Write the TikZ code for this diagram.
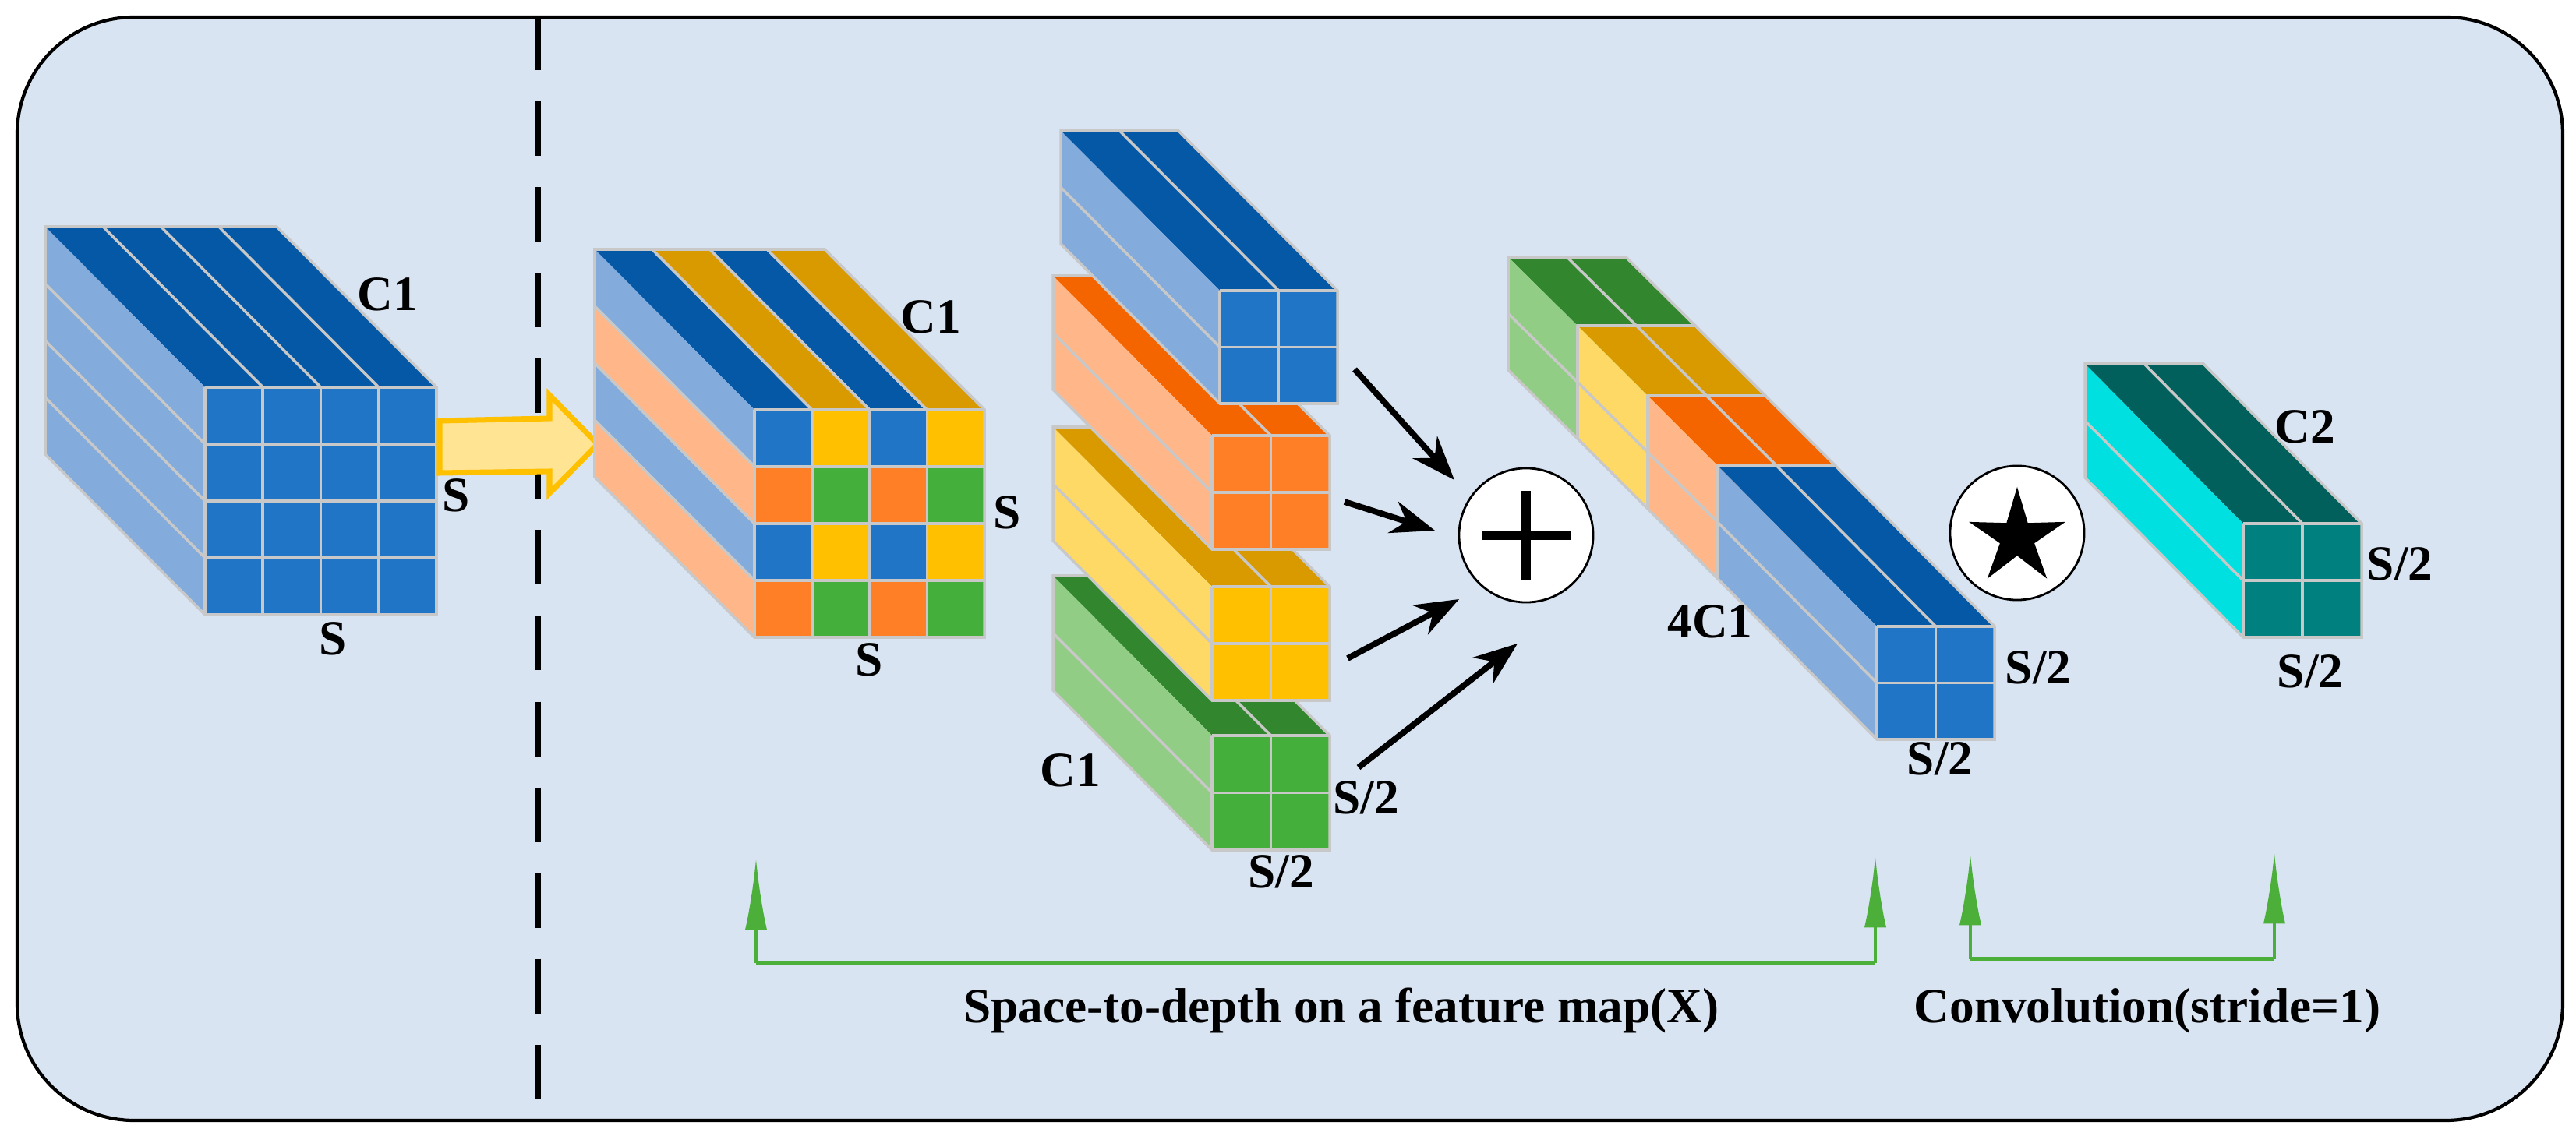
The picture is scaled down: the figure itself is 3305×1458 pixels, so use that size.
\documentclass[tikz,border=0pt]{standalone}
\usepackage{fontspec}
\setmainfont{Liberation Serif}
\usetikzlibrary{shapes.geometric,arrows.meta}
\definecolor{bg}{HTML}{D9E4F3}
\definecolor{btop}{HTML}{0558A6}\definecolor{bside}{HTML}{83ABDB}\definecolor{bfront}{HTML}{2075C7}
\definecolor{otop}{HTML}{F46500}\definecolor{oside}{HTML}{FFB78A}\definecolor{ofront}{HTML}{FF7F27}
\definecolor{ytop}{HTML}{D99A00}\definecolor{yside}{HTML}{FFD966}\definecolor{yfront}{HTML}{FFC000}
\definecolor{gtop}{HTML}{32862D}\definecolor{gside}{HTML}{92CD85}\definecolor{gfront}{HTML}{45AF3C}
\definecolor{ttop}{HTML}{02605C}\definecolor{tside}{HTML}{00E0E0}\definecolor{tfront}{HTML}{018080}
\definecolor{gridc}{HTML}{C8C8C8}
\definecolor{grn}{HTML}{4CAF3A}
\tikzset{
  gl/.style={draw=gridc,line width=1pt},
  lab/.style={font=\bfseries\fontsize{18}{20}\selectfont,inner sep=0pt},
  blk/.style={line width=2.2pt,-{Stealth[length=16pt,width=12pt]}},
  gr/.style={draw=grn,line width=1.2pt,-{Latex[length=26pt,width=8pt]}},
}
% x y w h dx dy top side front ; uses \nx \ny
\newcommand\cub[9]{%
 \fill[#7] ({#1},{#2}) -- ({#1+#5},{#2+#6}) -- ({#1+#3+#5},{#2+#6}) -- ({#1+#3},{#2}) -- cycle;
 \fill[#8] ({#1},{#2}) -- ({#1+#5},{#2+#6}) -- ({#1+#5},{#2+#4+#6}) -- ({#1},{#2+#4}) -- cycle;
 \fill[#9] ({#1},{#2}) rectangle ({#1+#3},{#2+#4});
 \cublines{#1}{#2}{#3}{#4}{#5}{#6}}
\newcommand\cublines[6]{%
 \pgfmathtruncatemacro\nxm{\nx-1}\pgfmathtruncatemacro\nym{\ny-1}
 \foreach \i in {1,...,\nxm}{\draw[gl] ({#1+\i*#3/\nx},{#2}) -- ++({#5},{#6}); \draw[gl] ({#1+\i*#3/\nx},{#2}) -- ++(0,{#4});}
 \foreach \j in {1,...,\nym}{\draw[gl] ({#1},{#2+\j*#4/\ny}) -- ++({#5},{#6}); \draw[gl] ({#1},{#2+\j*#4/\ny}) -- ++({#3},0);}
 \draw[gl] ({#1+#5},{#2+#4+#6}) -- ({#1+#5},{#2+#6}) -- ({#1+#3+#5},{#2+#6}) -- ({#1+#3},{#2}) -- ({#1+#3},{#2+#4}) -- ({#1},{#2+#4}) -- cycle;
 \draw[gl] ({#1},{#2}) -- ({#1+#3},{#2}) ({#1},{#2}) -- ({#1},{#2+#4});}
\begin{document}
\begin{tikzpicture}[x=0.01cm,y=-0.01cm]
\useasboundingbox (0,0) rectangle (3305,1458);
\draw[fill=bg,line width=1.2pt,rounded corners=1.5cm] (22,22) rectangle (3288,1438);
\draw[line width=2pt,dash pattern=on 0.7cm off 0.4cm] (690,20) -- (690,1440);

% cube 1
\def\nx{4}\def\ny{4}
\cub{263}{497}{297}{292}{-205}{-206}{btop}{bside}{bfront}
\node[lab] (c1a) at (497,378) {C1};
\node[lab] (s1a) at (585,636) {S};
\node[lab] (s1b) at (427,820) {S};

% yellow arrow
\draw[draw=yfront,fill=yside!70!white,line width=2pt,line join=miter]
 (564,540) -- (705,537) -- (705,507) -- (767,570) -- (705,633) -- (705,605) -- (564,607) -- cycle;

% cube 2
\cub{968}{526}{295}{292}{-205}{-206}{btop}{bside}{bfront}
\foreach \i/\c in {1/ytop,3/ytop}{
 \fill[\c] ({968+\i*73.75},526) -- ++(-205,-206) -- ++(73.75,0) -- ++(205,206) -- cycle;}
\foreach \j/\c in {1/oside,3/oside}{
 \fill[\c] (968,{526+\j*73}) -- ++(-205,-206) -- ++(0,73) -- ++(205,206) -- cycle;}
\foreach \i in {0,...,3}{\foreach \j in {0,...,3}{
 \pgfmathtruncatemacro\ci{mod(\i,2)}\pgfmathtruncatemacro\cj{mod(\j,2)}
 \ifnum\cj=0 \ifnum\ci=0 \def\cc{bfront}\else\def\cc{yfront}\fi
 \else \ifnum\ci=0 \def\cc{ofront}\else\def\cc{gfront}\fi\fi
 \fill[\cc] ({968+\i*73.75},{526+\j*73}) rectangle ++(73.75,73);}}
\cublines{968}{526}{295}{292}{-205}{-206}
\node[lab] (c1b) at (1194,407) {C1};
\node[lab] (s2a) at (1292,658) {S};
\node[lab] (s2b) at (1115,847) {S};

% four bars
\def\nx{2}\def\ny{2}
\cub{1555}{944}{151}{147}{-204}{-205}{gtop}{gside}{gfront}
\cub{1555}{753}{151}{146}{-204}{-205}{ytop}{yside}{yfront}
\cub{1555}{559}{151}{146}{-204}{-205}{otop}{oside}{ofront}
\cub{1565}{373}{151}{145}{-204}{-205}{btop}{bside}{bfront}
\node[lab] (c1c) at (1373,989) {C1};
\node[lab] (s3a) at (1753,1024) {S/2};
\node[lab] (s3b) at (1644,1119) {S/2};

% plus
\node[circle,draw,fill=white,line width=0.8pt,minimum size=1.72cm,inner sep=0pt] (plus) at (1958,687) {};
\draw[line width=3.3pt] (1901,687) -- (2015,687) (1958,630) -- (1958,744);
\coordinate (a1s) at (1738,474); \coordinate (a1e) at (1866,616);
\coordinate (a2s) at (1725,644); \coordinate (a2e) at (1841,681);
\coordinate (a3s) at (1729,845); \coordinate (a3e) at (1872,769);
\coordinate (a4s) at (1743,985); \coordinate (a4e) at (1947,826);
\draw[blk] (a1s) -- (a1e);
\draw[blk] (a2s) -- (a2e);
\draw[blk] (a3s) -- (a3e);
\draw[blk] (a4s) -- (a4e);

% 4C1 bar
\cub{2024}{418}{151}{145}{-89}{-88}{gtop}{gside}{gfront}
\cub{2114}{508}{151}{145}{-90}{-90}{ytop}{yside}{yfront}
\cub{2204}{598}{151}{145}{-90}{-90}{otop}{oside}{ofront}
\cub{2408}{804}{151}{145}{-204}{-206}{btop}{bside}{bfront}
\node[lab] (c4) at (2194,798) {4C1};
\node[lab] (s4a) at (2615,857) {S/2};
\node[lab] (s4b) at (2489,974) {S/2};

% star
\node[circle,draw,fill=white,line width=0.8pt,minimum size=1.72cm,inner sep=0pt] (conv) at (2588,684) {};
\node[star,star points=5,star point ratio=2.8,fill=black,minimum size=1.3cm,inner sep=0pt] (st) at (2588,690) {};

% C2 bar
\cub{2878}{672}{152}{146}{-203}{-205}{ttop}{tside}{tfront}
\node[lab] (c2) at (2957,548) {C2};
\node[lab] (s5a) at (3079,724) {S/2};
\node[lab] (s5b) at (2964,862) {S/2};

% green brackets
\coordinate (g1) at (970,1236); \coordinate (g1t) at (970,1102);
\coordinate (g2) at (2406,1236); \coordinate (g2t) at (2406,1099);
\coordinate (g3) at (2528,1231); \coordinate (g3t) at (2528,1096);
\coordinate (g4) at (2918,1231); \coordinate (g4t) at (2918,1094);
\draw[gr] (g1) -- (g1t);
\draw[gr] (g2) -- (g2t);
\draw[gr] (g3) -- (g3t);
\draw[gr] (g4) -- (g4t);
\draw[draw=grn,line width=1.7pt] (g1) -- (g2);
\draw[draw=grn,line width=1.7pt] (g3) -- (g4);
\node[lab] (t1) at (1721,1297) {Space-to-depth on a feature map(X)};
\node[lab] (t2) at (2755,1297) {Convolution(stride=1)};
\end{tikzpicture}
\end{document}
